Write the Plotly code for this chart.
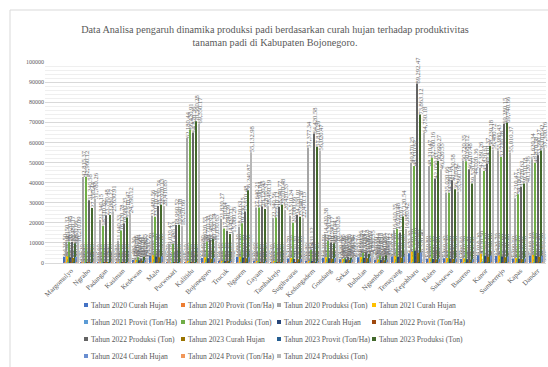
import plotly.graph_objects as go

# --- data -------------------------------------------------------------------
kecamatan = ["Margomulyo", "Ngraho", "Padangan", "Kasiman", "Kedewan", "Malo",
             "Purwosari", "Kalitidu", "Bojonegoro", "Trucuk", "Ngasem", "Gayam",
             "Tambakrejo", "Sugihwaras", "Kedungadem", "Gondang", "Sekar",
             "Bubulan", "Ngambon", "Temayang", "Kepohbaru", "Balen", "Sukosewu",
             "Baureno", "Kanor", "Sumberrejo", "Kapas", "Dander"]

# Curah hujan per tahun
ch_2020 = [3120.5, 410.2, 385.6, 402.8, 1480.3, 3560.4, 420.7, 455.1, 2540.8, 610.4, 2980.2, 520.6, 480.3, 2210.7,
           590.8, 2630.5, 1820.4, 2870.1, 1650.9, 3240.6, 4870.3, 2150.8, 2360.4, 1980.6, 3910.2, 3420.7, 2290.5, 3680.1]
ch_2021 = [3380.4, 460.8, 402.3, 438.5, 1620.7, 3890.2, 395.4, 512.6, 2810.3, 655.2, 3150.8, 548.3, 502.7, 2430.5,
           620.4, 2850.6, 1960.2, 3010.5, 1780.4, 3620.8, 5640.2, 2380.6, 2510.3, 2240.7, 4620.5, 3780.4, 2460.8, 3950.6]
ch_2022 = [2860.7, 372.5, 351.8, 376.2, 1350.6, 3210.8, 388.3, 430.5, 2310.6, 580.7, 2760.4, 495.2, 455.8, 2050.3,
           565.2, 2410.7, 1690.5, 2620.3, 1520.6, 2980.4, 6120.5, 1990.3, 2180.7, 1850.2, 3560.8, 3190.6, 2120.4, 3420.5]
ch_2023 = [2450.3, 328.6, 310.4, 335.7, 1180.2, 2870.5, 340.6, 385.2, 2060.4, 510.3, 2390.7, 440.6, 410.3, 1820.6,
           498.7, 2140.3, 1480.6, 2310.8, 1340.2, 2650.7, 4980.6, 1760.4, 1940.5, 1630.8, 3150.4, 2830.2, 1870.6, 3050.8]
ch_2024 = [2930.6, 395.4, 368.2, 390.5, 1410.8, 3380.6, 402.5, 470.8, 2420.3, 598.6, 2870.5, 512.4, 468.9, 2140.8,
           575.3, 2520.6, 1750.3, 2740.5, 1590.7, 3110.6, 5320.4, 2080.6, 2270.3, 1920.5, 3740.6, 3290.8, 2210.7, 3560.2]

# Provit (Ton/Ha) per tahun
pv_2020 = [5.42, 5.68, 5.91, 5.73, 5.12, 5.86, 5.64, 6.02, 5.78, 5.95, 5.51, 5.69, 5.47, 5.83,
           6.11, 5.58, 5.21, 5.36, 5.28, 5.74, 6.24, 6.18, 5.97, 6.08, 6.31, 6.22, 5.89, 6.04]
pv_2021 = [5.51, 5.74, 5.86, 5.79, 5.18, 5.92, 5.71, 6.08, 5.83, 5.89, 5.58, 5.75, 5.53, 5.88,
           6.16, 5.63, 5.27, 5.41, 5.33, 5.81, 6.29, 6.23, 6.02, 6.13, 6.37, 6.27, 5.94, 6.09]
pv_2022 = [5.38, 5.61, 5.82, 5.66, 5.07, 5.79, 5.58, 5.96, 5.72, 5.84, 5.46, 5.62, 5.41, 5.77,
           6.05, 5.52, 5.16, 5.31, 5.22, 5.68, 6.19, 6.12, 5.91, 6.01, 6.26, 6.17, 5.83, 5.98]
pv_2023 = [5.57, 5.79, 5.97, 5.84, 5.24, 5.98, 5.77, 6.14, 5.89, 6.01, 5.63, 5.81, 5.59, 5.94,
           6.22, 5.69, 5.32, 5.47, 5.39, 5.87, 6.35, 6.29, 6.08, 6.19, 6.42, 6.33, 6.00, 6.15]
pv_2024 = [5.49, 5.71, 5.89, 5.77, 5.15, 5.90, 5.69, 6.06, 5.81, 5.92, 5.55, 5.73, 5.50, 5.86,
           6.13, 5.61, 5.25, 5.39, 5.30, 5.79, 6.27, 6.21, 6.00, 6.11, 6.34, 6.25, 5.92, 6.07]

# Produksi (Ton) per tahun
pr_2020 = [10150.32, 42815.37, 21340.15, 11040.33, 2540.18, 23480.56, 9020.47, 62180.44, 10020.55, 21830.27,
           18020.63, 27640.21, 22340.56, 23510.24, 57377.34, 14420.38, 2980.45, 4810.26, 3590.44, 16410.35,
           49870.25, 48310.47, 35020.66, 50720.35, 47380.26, 55980.43, 32210.47, 51620.34]
pr_2021 = [10620.45, 42960.12, 18510.62, 16120.78, 2810.44, 23010.29, 9480.33, 66420.91, 10710.38, 17210.84,
           19730.15, 27590.84, 22610.12, 20080.66, 6431.12, 11130.59, 2510.33, 5120.47, 3720.18, 16920.48,
           48310.62, 52380.16, 34980.14, 50680.12, 45820.61, 52710.28, 34180.25, 49870.58]
pr_2022 = [10480.17, 31240.58, 23790.48, 19680.25, 2030.61, 28330.74, 18960.52, 64870.36, 11480.92, 16040.39,
           25610.48, 28120.45, 28040.77, 24020.91, 64420.58, 10240.17, 3060.18, 5330.18, 3410.66, 15210.67,
           89292.47, 42050.83, 41230.58, 46610.48, 49410.37, 69280.15, 37920.63, 53590.27]
pr_2023 = [9870.66, 27350.44, 23880.27, 22610.47, 3120.35, 28920.13, 19040.18, 70560.28, 11920.14, 14420.71,
           36240.87, 26810.37, 29010.48, 23040.38, 57810.26, 9810.44, 2740.62, 4630.59, 3880.27, 23120.54,
           73863.12, 50690.27, 36710.42, 39520.77, 58230.18, 69740.66, 39510.18, 56010.42]
pr_2024 = [10210.09, 31780.26, 25630.91, 24790.12, 2650.72, 28410.85, 18520.66, 69350.17, 11050.63, 15080.26,
           55132.98, 28460.19, 26420.33, 22470.15, 56020.47, 10330.28, 2890.27, 4920.35, 3650.12, 16880.42,
           64750.18, 46620.55, 35560.19, 44020.36, 56480.72, 55010.37, 40120.36, 57300.16]

series_names = [
    "Tahun 2020 Curah Hujan", "Tahun 2020 Provit (Ton/Ha)", "Tahun 2020 Produksi (Ton)",
    "Tahun 2021 Curah Hujan", "Tahun 2021 Provit (Ton/Ha)", "Tahun 2021 Produksi (Ton)",
    "Tahun 2022 Curah Hujan", "Tahun 2022 Provit (Ton/Ha)", "Tahun 2022 Produksi (Ton)",
    "Tahun 2023 Curah Hujan", "Tahun 2023 Provit (Ton/Ha)", "Tahun 2023 Produksi (Ton)",
    "Tahun 2024 Curah Hujan", "Tahun 2024 Provit (Ton/Ha)", "Tahun 2024 Produksi (Ton)",
]
series_values = [ch_2020, pv_2020, pr_2020, ch_2021, pv_2021, pr_2021, ch_2022, pv_2022, pr_2022,
                 ch_2023, pv_2023, pr_2023, ch_2024, pv_2024, pr_2024]
series_colors = ["#4472C4", "#ED7D31", "#A5A5A5", "#FFC000", "#5B9BD5", "#70AD47",
                 "#264478", "#9E480E", "#636363", "#997300", "#255E91", "#43682B",
                 "#698ED0", "#F1975A", "#B7B7B7"]

title_text = ("Data Analisa pengaruh dinamika produksi padi berdasarkan curah hujan terhadap produktivitas"
              "<br>tanaman padi di Kabupaten Bojonegoro.")

# --- layout geometry (pixels) ----------------------------------------------
W, H = 548, 367
ML, MR, MT, MB = 45, 2, 62, 104
PW, PH = W - ML - MR, H - MT - MB
SERIF = "Liberation Serif"
GREY = "#595959"


def fx(px):
    return (px - ML) / PW


def fy(py):
    return (H - MB - py) / PH


fig = go.Figure()
for name, vals, col in zip(series_names, series_values, series_colors):
    fig.add_trace(go.Bar(
        x=kecamatan, y=vals, name=name, marker=dict(color=col, line=dict(width=0)),
        texttemplate="%{y:,.2f}", textposition="outside", textangle=-90,
        constraintext="none", cliponaxis=False,
        textfont=dict(family=SERIF, size=6.5, color="#6a6a6a"),
        showlegend=False,
    ))

# legend drawn as a 4-column grid of small squares with labels
shapes = []
annotations = []
col_x = [86, 183, 279, 374]
row_y = [305, 322, 339, 356]
for i, (name, col) in enumerate(zip(series_names, series_colors)):
    cx = col_x[i % 4]
    cy = row_y[i // 4]
    shapes.append(dict(type="rect", xref="paper", yref="paper",
                       x0=fx(cx - 2), x1=fx(cx + 2), y0=fy(cy + 2), y1=fy(cy - 2),
                       fillcolor=col, line=dict(width=0)))
    annotations.append(dict(text=name, xref="paper", yref="paper", x=fx(cx + 3), y=fy(cy),
                            xanchor="left", yanchor="middle", showarrow=False,
                            font=dict(family=SERIF, size=7.6, color=GREY)))

# chart-area frame (left and top edges)
shapes.append(dict(type="line", xref="paper", yref="paper", x0=fx(10), x1=fx(10),
                   y0=fy(H), y1=fy(10), line=dict(color="#d9d9d9", width=1)))
shapes.append(dict(type="line", xref="paper", yref="paper", x0=fx(10), x1=fx(W),
                   y0=fy(10), y1=fy(10), line=dict(color="#d9d9d9", width=1)))

fig.update_layout(
    width=W, height=H,
    margin=dict(l=ML, r=MR, t=MT, b=MB, pad=0),
    paper_bgcolor="white", plot_bgcolor="white",
    barmode="group", bargap=0.12, bargroupgap=0,
    title=dict(text=title_text, x=275 / W, xref="container", xanchor="center",
               y=1 - 33 / H, yref="container", yanchor="middle",
               font=dict(family=SERIF, size=10.2, color=GREY)),
    font=dict(family=SERIF, color=GREY),
    xaxis=dict(type="category", range=[-1.5, 27.5], tickangle=-45,
               tickfont=dict(family=SERIF, size=7, color=GREY),
               showgrid=False, showline=True, linecolor="#d9d9d9", ticks=""),
    yaxis=dict(range=[0, 100000], dtick=10000, tickformat="d",
               tickfont=dict(family=SERIF, size=6, color=GREY),
               showgrid=True, gridcolor="#d9d9d9", gridwidth=1,
               minor=dict(dtick=2000, showgrid=True, gridcolor="#efefef", gridwidth=1),
               zeroline=False, showline=False, ticks=""),
    shapes=shapes, annotations=annotations,
)

fig.write_html("out.html")
